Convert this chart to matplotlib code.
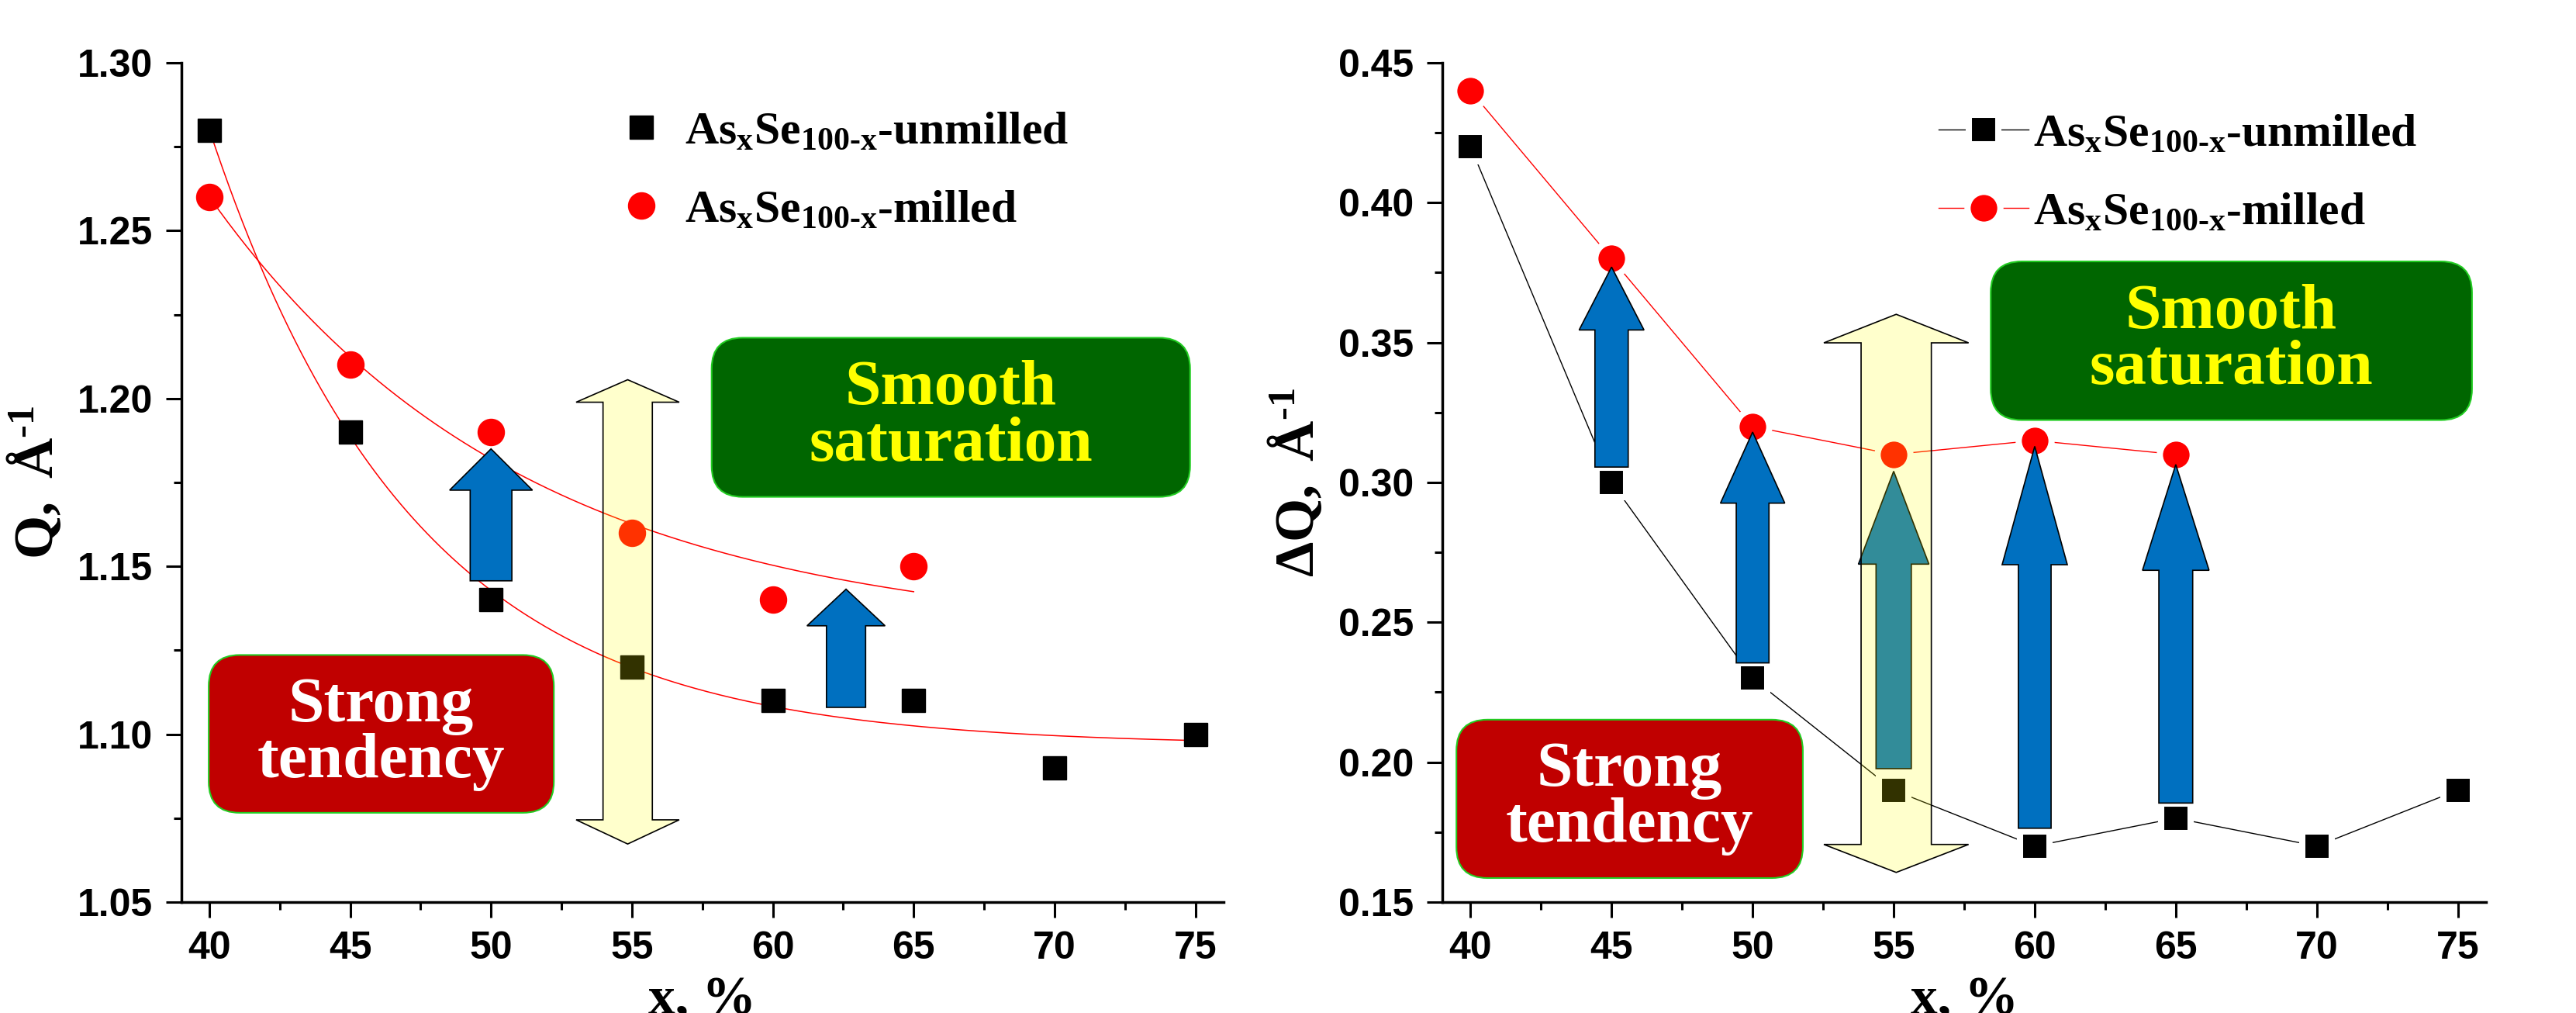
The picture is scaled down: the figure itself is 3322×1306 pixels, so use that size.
import numpy as np
import matplotlib
matplotlib.use('Agg')
import matplotlib.pyplot as plt
from matplotlib.patches import FancyArrow, Polygon, FancyBboxPatch
from matplotlib.ticker import MultipleLocator, FormatStrFormatter

plt.rcParams['font.family'] = ['Liberation Sans', 'DejaVu Sans']
plt.rcParams['font.weight'] = 'bold'
plt.rcParams['mathtext.fontset'] = 'custom'
plt.rcParams['mathtext.rm'] = 'Liberation Serif'
plt.rcParams['mathtext.bf'] = 'Liberation Serif:bold'
plt.rcParams['mathtext.it'] = 'Liberation Serif:italic'

# data
x_all = [40, 45, 50, 55, 60, 65, 70, 75]
x_milled = [40, 45, 50, 55, 60, 65]
q_unmilled = [1.28, 1.19, 1.14, 1.12, 1.11, 1.11, 1.09, 1.10]
q_milled = [1.26, 1.21, 1.19, 1.16, 1.14, 1.15]
dq_unmilled = [0.42, 0.30, 0.23, 0.19, 0.17, 0.18, 0.17, 0.19]
dq_milled = [0.44, 0.38, 0.32, 0.31, 0.315, 0.31]

lbl_unmilled = r'$\mathbf{As_xSe_{100\text{-}x}}$-unmilled'
lbl_milled = r'$\mathbf{As_xSe_{100\text{-}x}}$-milled'

# blue arrows: x, bottom, tip, head start, shaft width, head width
left_arrows = [(50, 1.1457, 1.185, 1.1727, 1.48, 2.94),
               (62.6, 1.108, 1.1432, 1.1323, 1.39, 2.77)]
right_arrows = [(45, 0.3055, 0.377, 0.3545, 1.18, 2.3),
                (50, 0.2355, 0.318, 0.2926, 1.16, 2.28),
                (55, 0.1977, 0.304, 0.2708, 1.25, 2.5),
                (60, 0.1764, 0.3129, 0.2706, 1.16, 2.31),
                (65, 0.1854, 0.3064, 0.2686, 1.2, 2.36)]
# yellow double arrows: x, bottom tip, bottom head, top head, top tip, shaft, head
left_dbl = (54.85, 1.0673, 1.0745, 1.1989, 1.2056, 1.75, 3.66)
right_dbl = (55.09, 0.1606, 0.1706, 0.3499, 0.3601, 2.49, 5.13)
# text boxes: x0, x1, y0, y1
left_red = (39.98, 52.23, 1.0766, 1.1236)
left_green = (57.83, 74.81, 1.1707, 1.2181)
right_red = (39.5, 51.78, 0.1586, 0.2152)
right_green = (58.44, 75.5, 0.3223, 0.379)


def expfit(x, y):
    x = np.asarray(x, float)
    y = np.asarray(y, float)
    best = None
    for t in np.linspace(1, 40, 800):
        A = np.column_stack([np.ones_like(x), np.exp(-(x - x[0]) / t)])
        coef = np.linalg.lstsq(A, y, rcond=None)[0]
        err = np.sum((A @ coef - y) ** 2)
        if best is None or err < best[0]:
            best = (err, t, coef)
    _, t, (y0, a) = best
    xs = np.linspace(x[0], x[-1], 300)
    return xs, y0 + a * np.exp(-(xs - x[0]) / t)


def style_axes(ax, ylo, yhi):
    ax.set_xlim(39, 76)
    ax.set_ylim(ylo, yhi)
    ax.spines['top'].set_visible(False)
    ax.spines['right'].set_visible(False)
    for s in ['left', 'bottom']:
        ax.spines[s].set_linewidth(2.5)
    ax.xaxis.set_major_locator(MultipleLocator(5))
    ax.xaxis.set_minor_locator(MultipleLocator(2.5))
    ax.yaxis.set_major_locator(MultipleLocator(0.05))
    ax.yaxis.set_minor_locator(MultipleLocator(0.025))
    ax.yaxis.set_major_formatter(FormatStrFormatter('%.2f'))
    ax.tick_params(which='major', direction='out', length=14.4, width=2.2,
                   labelsize=36, pad=12)
    ax.tick_params(which='minor', direction='out', length=7.2, width=2.2)
    ax.set_xlabel('x, %', family='Liberation Serif', weight='bold', fontsize=50,
                  va='top')
    ax.xaxis.set_label_coords(0.5, -0.088)


def add_box(ax, box, face, text, tcolor):
    x0, x1, y0, y1 = box
    bb = ax.get_window_extent()
    xl, yl = ax.get_xlim(), ax.get_ylim()
    xpp = (xl[1] - xl[0]) / bb.width
    ypp = (yl[1] - yl[0]) / bb.height
    p = FancyBboxPatch((x0, y0), x1 - x0, y1 - y0,
                       boxstyle='round,pad=0,rounding_size=%f' % (40 * xpp),
                       mutation_aspect=ypp / xpp, fc=face, ec='#22cc22',
                       lw=1.5, zorder=2.5)
    ax.add_patch(p)
    ax.text((x0 + x1) / 2, (y0 + y1) / 2, text, ha='center', va='center',
            color=tcolor, fontsize=60, family='Liberation Serif',
            weight='bold', linespacing=0.95, zorder=2.6)


def add_arrows(ax, arrows):
    for x, yb, yt, yh, sw, hw in arrows:
        ax.add_patch(FancyArrow(x, yb, 0, yt - yb, width=sw, head_width=hw,
                                head_length=yt - yh, length_includes_head=True,
                                fc='#0070c0', ec='black', lw=1.2, zorder=4))


def add_double(ax, d):
    x, bt, bh, th, tt, sw, hw = d
    pts = [(x - sw / 2, bh), (x - hw / 2, bh), (x, bt), (x + hw / 2, bh),
           (x + sw / 2, bh), (x + sw / 2, th), (x + hw / 2, th), (x, tt),
           (x - hw / 2, th), (x - sw / 2, th)]
    ax.add_patch(Polygon(pts, closed=True, fc=(1, 1, 0, 0.2), ec='none', zorder=5))
    ax.add_patch(Polygon(pts, closed=True, fill=False, ec='black', lw=1.2, zorder=5))


fig = plt.figure(figsize=(33.22, 13.06), dpi=100)
ax1 = fig.add_axes([0.0703, 0.1095, 0.4047, 0.8285])
ax2 = fig.add_axes([0.5599, 0.1095, 0.4052, 0.8285])

legend_font = dict(family='Liberation Serif', weight='bold', size=43)

# left panel
style_axes(ax1, 1.05, 1.30)
xs, ys = expfit(x_all, q_unmilled)
ax1.plot(xs, ys, color='red', lw=1.1, zorder=2)
xs, ys = expfit(x_milled, q_milled)
ax1.plot(xs, ys, color='red', lw=1.1, zorder=2)
h1, = ax1.plot(x_all, q_unmilled, ls='none', marker='s', ms=22, color='black', zorder=3)
h2, = ax1.plot(x_milled, q_milled, ls='none', marker='o', ms=24.5, color='red',
               mec='red', zorder=3)
ax1.set_ylabel(r'$\mathbf{Q,}\ \mathrm{Å}^{\mathbf{\text{-}1}}$', fontsize=52)
ax1.yaxis.set_label_coords(-0.112, 0.5)
ax1.legend([h1, h2], [lbl_unmilled, lbl_milled], loc='upper left',
           bbox_to_anchor=(0.419, 0.943), frameon=False, prop=legend_font,
           handlelength=1.0, handletextpad=0.45, labelspacing=0.78,
           borderpad=0, borderaxespad=0)
add_box(ax1, left_red, '#c00000', 'Strong\ntendency', 'white')
add_box(ax1, left_green, '#006600', 'Smooth\nsaturation', '#ffff00')
add_arrows(ax1, left_arrows)
add_double(ax1, left_dbl)

# right panel
style_axes(ax2, 0.15, 0.45)
g1, = ax2.plot(x_all, dq_unmilled, color='black', lw=1.0, marker='s', ms=28,
               mfc='black', mec='white', mew=5.8, zorder=3)
g2, = ax2.plot(x_milled, dq_milled, color='red', lw=1.0, marker='o', ms=30.5,
               mfc='red', mec='white', mew=5.8, zorder=3)
ax2.set_ylabel(r'$\Delta\mathbf{Q,}\ \mathrm{Å}^{\mathbf{\text{-}1}}$', fontsize=52)
ax2.yaxis.set_label_coords(-0.112, 0.5)
ax2.legend([g1, g2], [lbl_unmilled, lbl_milled], loc='upper left',
           bbox_to_anchor=(0.4755, 0.94), frameon=False, prop=legend_font,
           handlelength=1.94, handletextpad=0.1, labelspacing=0.78,
           borderpad=0, borderaxespad=0)
add_box(ax2, right_red, '#c00000', 'Strong\ntendency', 'white')
add_box(ax2, right_green, '#006600', 'Smooth\nsaturation', '#ffff00')
add_arrows(ax2, right_arrows)
add_double(ax2, right_dbl)

for ax in (ax1, ax2):
    for lab in ax.get_xticklabels() + ax.get_yticklabels():
        lab.set_fontweight('bold')

fig.savefig('out.png', dpi=100)
